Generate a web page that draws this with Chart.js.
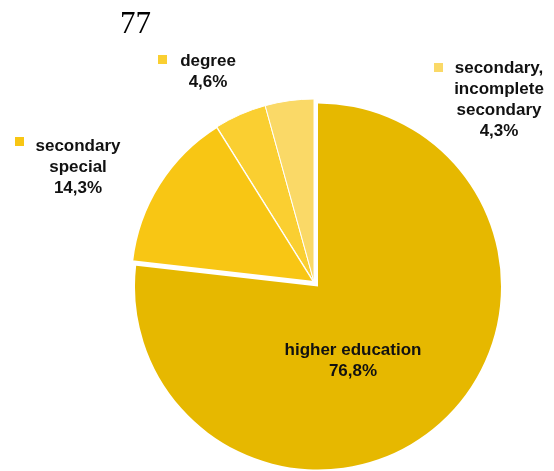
<!DOCTYPE html>
<html>
<head>
<meta charset="utf-8">
<script src="https://cdn.jsdelivr.net/npm/chart.js@4"></script>
<style>
  html, body { margin: 0; padding: 0; background: #fff; }
  #wrap { position: relative; width: 554px; height: 471px; }
  #halaman { position: absolute; left: 120px; top: 5px; font: 31px "Liberation Serif", serif; color: #000; }
</style>
</head>
<body>
<div id="wrap">
  <canvas id="pie" width="554" height="471"></canvas>
  <div id="halaman">77</div>
</div>
<script>
// data
const kategori = ['higher education', 'secondary special', 'degree', 'secondary, incomplete secondary'];
const nilai = [76.8, 14.3, 4.6, 4.3];

// tampilan
const warna = ['#E6B800', '#F8C614', '#FACF31', '#FAD967'];
const ledakan = [6, 0, 0, 0]; // geser irisan keluar (px) tanpa memperbesar jari-jari
const baris = [
  ['higher education'],
  ['secondary', 'special'],
  ['degree'],
  ['secondary,', 'incomplete', 'secondary']
];
// posisi teks label: x tengah, y baris pertama, kotak penanda (atau null)
const posLabel = [
  { x: 353, y: 350, kotak: null },
  { x: 78, y: 146, kotak: [15, 137] },
  { x: 208, y: 61, kotak: [158, 55] },
  { x: 499, y: 68, kotak: [434, 63] }
];

function formatPersen(v) {
  return v.toFixed(1).replace('.', ',') + '%';
}

// offset bawaan chart.js juga menambah jari-jari, jadi geser sendiri
const geserPlugin = {
  id: 'geserIrisan',
  beforeDatasetsDraw(chart) {
    chart.getDatasetMeta(0).data.forEach((arc, i) => {
      if (arc._digeser) return;
      const gambarAsli = arc.draw.bind(arc);
      arc.draw = function (ctx, area) {
        const d = ledakan[i] || 0;
        const tengah = (this.startAngle + this.endAngle) / 2;
        ctx.save();
        ctx.translate(Math.cos(tengah) * d, Math.sin(tengah) * d);
        gambarAsli(ctx, area);
        ctx.restore();
      };
      arc._digeser = true;
    });
  }
};

const labelPlugin = {
  id: 'labelPie',
  afterDatasetsDraw(chart) {
    const ctx = chart.ctx;
    ctx.save();
    ctx.font = 'bold 17px "Liberation Sans", Arial, sans-serif';
    ctx.fillStyle = '#111';
    ctx.textAlign = 'center';
    ctx.textBaseline = 'middle';
    const data = chart.data.datasets[0].data;
    posLabel.forEach((p, i) => {
      const teks = baris[i].concat([formatPersen(data[i])]);
      teks.forEach((t, j) => {
        ctx.fillText(t, p.x, p.y + j * 21);
      });
      if (p.kotak) {
        ctx.fillStyle = warna[i];
        ctx.fillRect(p.kotak[0], p.kotak[1], 9, 9);
        ctx.fillStyle = '#111';
      }
    });
    ctx.restore();
  }
};

new Chart(document.getElementById('pie').getContext('2d'), {
  type: 'pie',
  data: {
    labels: kategori,
    datasets: [{
      data: nilai,
      backgroundColor: warna,
      borderColor: '#fff',
      borderWidth: [0, 2, 1, 1],
      radius: 183
    }]
  },
  options: {
    responsive: false,
    animation: false,
    layout: { padding: { left: 90, right: 16, top: 93, bottom: 0 } },
    plugins: {
      legend: { display: false },
      tooltip: { enabled: false }
    }
  },
  plugins: [geserPlugin, labelPlugin]
});
</script>
</body>
</html>
